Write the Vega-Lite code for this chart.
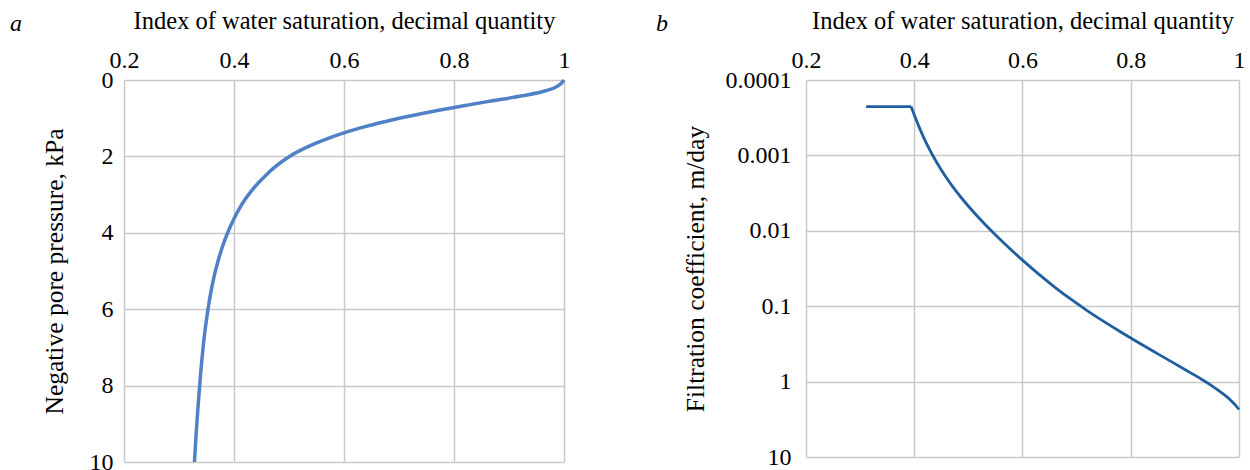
{
  "$schema": "https://vega.github.io/schema/vega-lite/v6.json",
  "background": "white",
  "padding": {"left": 10, "top": 8, "right": 0, "bottom": 0},
  "spacing": 85,
  "config": {
    "font": "Liberation Serif",
    "view": {"stroke": null},
    "axis": {
      "domain": false,
      "ticks": false,
      "grid": true,
      "gridColor": "#c9c9c9",
      "gridWidth": 1.5,
      "labelFont": "Liberation Serif",
      "labelFontSize": 24,
      "labelColor": "#000000",
      "titleFont": "Liberation Serif",
      "titleFontSize": 24.5,
      "titleFontWeight": "normal",
      "titleColor": "#000000"
    },
    "axisX": {"labelFlush": false},
    "axisY": {"titleFontSize": 25.5}
  },
  "hconcat": [
    {
      "width": 440,
      "height": 382,
      "title": {"text": "a", "anchor": "start", "frame": "bounds", "fontStyle": "italic", "fontWeight": "normal", "fontSize": 24, "color": "#000000", "dx": -32, "dy": 32},
      "data": {"values": [
        {"S": 0.3281, "P": 10},
        {"S": 0.331, "P": 9.3},
        {"S": 0.334, "P": 8.67},
        {"S": 0.339, "P": 7.74},
        {"S": 0.345, "P": 6.84},
        {"S": 0.3526, "P": 6.01},
        {"S": 0.3586, "P": 5.5},
        {"S": 0.365, "P": 5.07},
        {"S": 0.371, "P": 4.74},
        {"S": 0.38, "P": 4.32},
        {"S": 0.389, "P": 3.98},
        {"S": 0.4, "P": 3.63},
        {"S": 0.41, "P": 3.36},
        {"S": 0.42, "P": 3.13},
        {"S": 0.43, "P": 2.935},
        {"S": 0.444, "P": 2.697},
        {"S": 0.46, "P": 2.465},
        {"S": 0.474, "P": 2.283},
        {"S": 0.49, "P": 2.107},
        {"S": 0.5045, "P": 1.969},
        {"S": 0.525, "P": 1.811},
        {"S": 0.547, "P": 1.666},
        {"S": 0.575, "P": 1.506},
        {"S": 0.6, "P": 1.383},
        {"S": 0.64, "P": 1.215},
        {"S": 0.687, "P": 1.046},
        {"S": 0.74, "P": 0.882},
        {"S": 0.8, "P": 0.72},
        {"S": 0.863, "P": 0.559},
        {"S": 0.924, "P": 0.413},
        {"S": 0.9665, "P": 0.281},
        {"S": 0.9876, "P": 0.167},
        {"S": 0.9967, "P": 0.062},
        {"S": 1.0, "P": 0}
      ]},
      "mark": {"type": "line", "color": "#5080c6", "strokeWidth": 3.5, "interpolate": "monotone"},
      "encoding": {
        "x": {"field": "S", "type": "quantitative", "scale": {"domain": [0.2, 1], "nice": false, "zero": false},
              "axis": {"orient": "top", "values": [0.2, 0.4, 0.6, 0.8, 1], "format": "~g", "labelPadding": 8, "titlePadding": 15, "title": "Index of water saturation, decimal quantity"}},
        "y": {"field": "P", "type": "quantitative", "scale": {"domain": [0, 10], "reverse": true, "nice": false},
              "axis": {"values": [0, 2, 4, 6, 8, 10], "labelPadding": 11, "titlePadding": 22, "title": "Negative pore pressure, kPa"}}
      }
    },
    {
      "width": 433,
      "height": 377,
      "title": {"text": "b", "anchor": "start", "frame": "bounds", "fontStyle": "italic", "fontWeight": "normal", "fontSize": 24, "color": "#000000", "dx": -27, "dy": 32},
      "data": {"values": [
        {"part": "flat", "S": 0.311, "K": 0.0002254},
        {"part": "flat", "S": 0.394, "K": 0.0002254},
        {"part": "curve", "S": 0.394, "K": 0.0002254},
        {"part": "curve", "S": 0.41, "K": 0.0004375},
        {"part": "curve", "S": 0.421, "K": 0.000656},
        {"part": "curve", "S": 0.433, "K": 0.000966},
        {"part": "curve", "S": 0.45, "K": 0.001563},
        {"part": "curve", "S": 0.47, "K": 0.002535},
        {"part": "curve", "S": 0.49, "K": 0.003873},
        {"part": "curve", "S": 0.515, "K": 0.00621},
        {"part": "curve", "S": 0.541, "K": 0.00973},
        {"part": "curve", "S": 0.57, "K": 0.01552},
        {"part": "curve", "S": 0.6, "K": 0.02449},
        {"part": "curve", "S": 0.63, "K": 0.03758},
        {"part": "curve", "S": 0.66, "K": 0.0561},
        {"part": "curve", "S": 0.69, "K": 0.08147},
        {"part": "curve", "S": 0.72, "K": 0.1151},
        {"part": "curve", "S": 0.75, "K": 0.1592},
        {"part": "curve", "S": 0.78, "K": 0.2163},
        {"part": "curve", "S": 0.81, "K": 0.2911},
        {"part": "curve", "S": 0.85, "K": 0.4285},
        {"part": "curve", "S": 0.9, "K": 0.6918},
        {"part": "curve", "S": 0.93, "K": 0.9247},
        {"part": "curve", "S": 0.95, "K": 1.138},
        {"part": "curve", "S": 0.97, "K": 1.4454},
        {"part": "curve", "S": 0.985, "K": 1.778},
        {"part": "curve", "S": 0.995, "K": 2.113},
        {"part": "curve", "S": 1.0, "K": 2.344}
      ]},
      "encoding": {
        "x": {"field": "S", "type": "quantitative", "scale": {"domain": [0.2, 1], "nice": false, "zero": false},
              "axis": {"orient": "top", "values": [0.2, 0.4, 0.6, 0.8, 1], "format": "~g", "labelPadding": 8, "titlePadding": 15, "title": "Index of water saturation, decimal quantity"}},
        "y": {"field": "K", "type": "quantitative", "scale": {"type": "log", "domain": [0.0001, 10], "reverse": true, "nice": false},
              "axis": {"values": [0.0001, 0.001, 0.01, 0.1, 1, 10], "format": "~g", "labelPadding": 15, "titlePadding": 17, "title": "Filtration coefficient, m/day"}}
      },
      "layer": [
        {
          "transform": [{"filter": "datum.part === 'flat'"}],
          "mark": {"type": "line", "color": "#1f5f9f", "strokeWidth": 2.8}
        },
        {
          "transform": [{"filter": "datum.part === 'curve'"}],
          "mark": {"type": "line", "color": "#1f5f9f", "strokeWidth": 2.8, "interpolate": "monotone"}
        }
      ]
    }
  ]
}
